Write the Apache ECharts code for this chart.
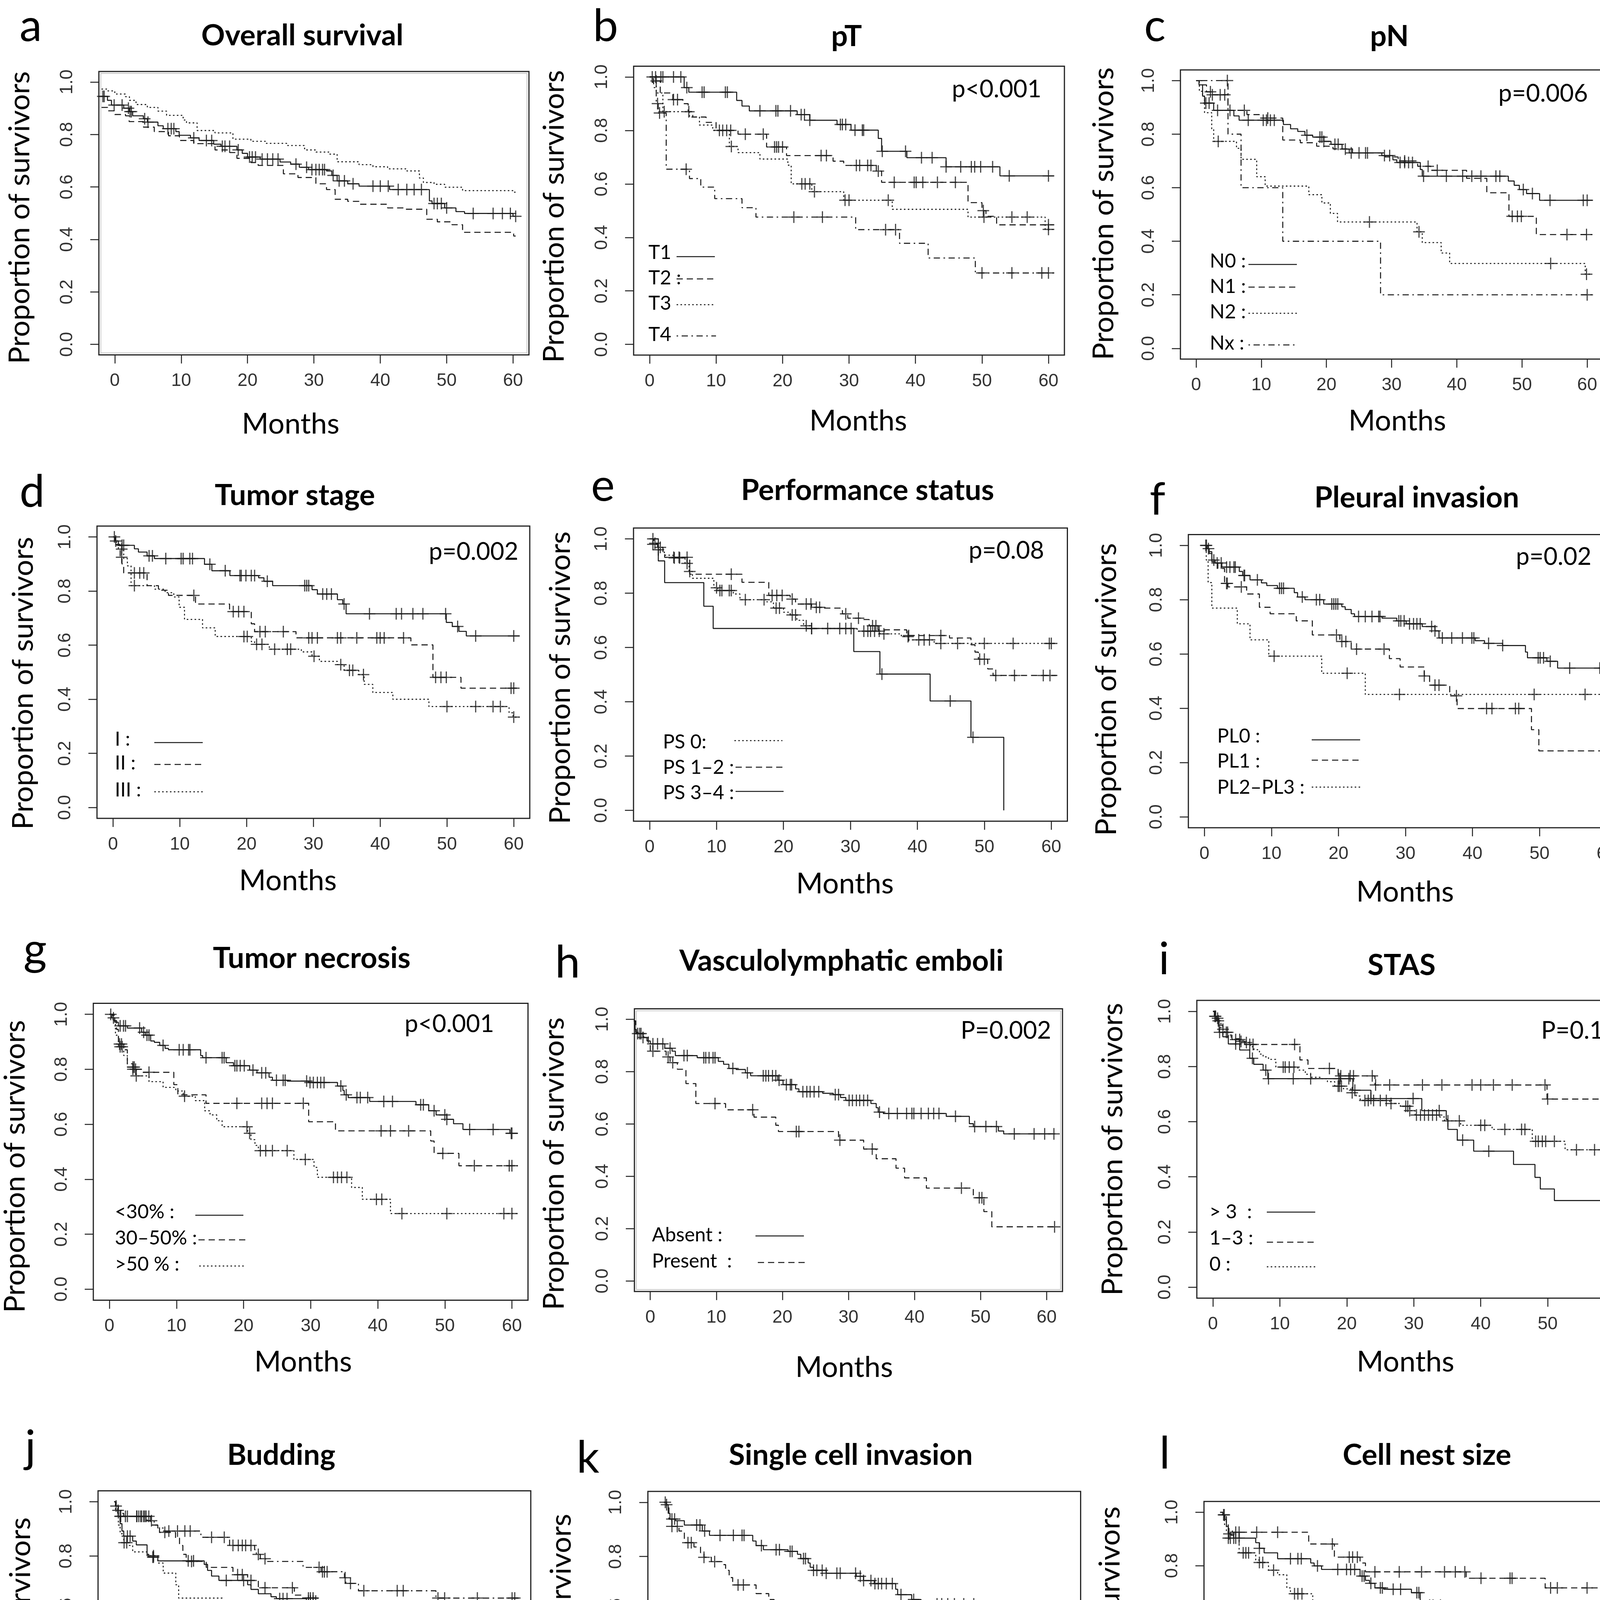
<!DOCTYPE html>
<html><head><meta charset="utf-8">
<script src="https://cdn.jsdelivr.net/npm/echarts@6/dist/echarts.min.js"></script>
<style>html,body{margin:0;padding:0;background:#fff}#c{width:4230px;height:4822px}</style>
</head><body><div id="c"></div>
<script>
// ---------------- DATA ----------------
const xTicks = [0, 10, 20, 30, 40, 50, 60];
const yTicks = [0, 0.2, 0.4, 0.6, 0.8, 1.0];
// last follow-up time per panel
const endTimes = [60.4, 60.8, 60.8, 60.9, 60.9, 60.9, 60.9, 61.3, 60.8, 60.8, 61.0, 60.8];

// a: Overall survival
const a_est = [[-2.05,0.945],[-1.1,0.93],[-0.5,0.912],[1.35,0.9],[2.2,0.887],[2.7,0.871],[4.3,0.86],[4.9,0.847],[6.5,0.833],[7.3,0.822],[9.2,0.811],[9.7,0.797],[11.4,0.787],[12.7,0.777],[14.9,0.763],[16.0,0.755],[18.4,0.741],[19.2,0.728],[20.0,0.714],[21.9,0.706],[24.9,0.695],[26.5,0.687],[27.8,0.675],[29.2,0.666],[31.9,0.661],[32.7,0.644],[33.5,0.623],[35.1,0.612],[36.8,0.603],[41.4,0.59],[47.4,0.547],[47.8,0.537],[49.7,0.52],[51.4,0.506],[52.7,0.499],[60.0,0.488]];
const a_est_c = [-1.8,-1.6,-0.1,1.1,2.05,2.3,2.5,4.5,5.0,8.0,8.5,8.9,11.9,13.8,14.6,16.2,16.6,17.3,18.6,20.3,20.7,21.2,22.2,23.0,23.8,24.6,27.3,28.9,29.7,30.3,30.8,31.3,31.6,32.9,33.8,34.6,35.9,38.9,40.0,41.2,42.7,44.0,45.1,46.2,48.1,48.6,49.2,50.0,54.0,57.0,58.4,59.6,60.4];
const a_upper = [[-2.0,0.973],[-1.1,0.966],[0,0.954],[1.6,0.944],[2.2,0.93],[3.2,0.914],[4.9,0.903],[6.5,0.889],[7.8,0.873],[10.3,0.855],[10.8,0.844],[12.4,0.815],[15.1,0.806],[17.8,0.782],[20.5,0.774],[22.7,0.766],[25.9,0.758],[28.6,0.741],[30.3,0.733],[32.4,0.725],[33.5,0.696],[36.8,0.685],[38.9,0.677],[41.1,0.669],[44.0,0.661],[45.9,0.634],[46.5,0.617],[48.1,0.61],[49.7,0.599],[52.4,0.586],[60.1,0.58]];
const a_lower = [[-2.0,0.903],[-1.08,0.89],[0,0.876],[1.62,0.871],[2.16,0.849],[4.32,0.828],[5.95,0.811],[8.1,0.795],[9.73,0.777],[11.9,0.765],[15.1,0.741],[17.3,0.731],[18.4,0.709],[20.5,0.693],[21.6,0.682],[25.4,0.65],[27.6,0.636],[30.3,0.612],[31.9,0.59],[33.2,0.553],[35.1,0.545],[36.8,0.534],[41.1,0.52],[43.8,0.515],[47.0,0.477],[48.6,0.467],[50.8,0.456],[52.4,0.427],[60.1,0.413]];

// b: pT
const b_T1 = [[0,1],[5.2,0.96],[5.9,0.943],[13.1,0.912],[13.9,0.891],[15.0,0.873],[22.2,0.859],[24.1,0.838],[28.2,0.822],[30.3,0.801],[34.4,0.77],[34.9,0.722],[38.7,0.698],[44.6,0.664],[52.7,0.63]];
const b_T1_c = [0.4,0.9,1.7,2.0,3.6,4.7,5.6,7.9,8.2,11.4,11.7,16.6,19.0,19.3,21.2,22.8,23.3,24.1,28.7,29.0,29.5,30.9,32.0,32.2,35.0,38.5,40.9,42.5,44.6,46.8,48.4,48.9,49.8,51.6,54.1,60.0];
const b_T2 = [[0,1],[0.8,0.985],[1.6,0.94],[3.5,0.915],[5.0,0.9],[5.8,0.87],[6.5,0.85],[8.5,0.83],[10.0,0.8],[13.3,0.786],[17.6,0.738],[20.6,0.706],[27.6,0.685],[29.2,0.669],[34.1,0.648],[34.9,0.606],[47.9,0.53],[50.0,0.5],[50.6,0.479],[52.2,0.447]];
const b_T2_c = [1.0,3.6,4.2,5.9,10.5,11.0,11.6,12.2,14.4,17.1,18.8,19.1,19.4,20.0,25.8,26.6,31.1,31.6,32.8,33.3,34.4,36.8,39.8,40.1,41.1,43.3,46.0,50.2,60.0];
const b_T3 = [[0,1],[0.4,0.98],[1.0,0.94],[2.0,0.87],[6.0,0.85],[7.5,0.82],[9.5,0.8],[12.0,0.74],[13.3,0.717],[16.6,0.693],[20.8,0.67],[21.3,0.6],[24.4,0.571],[29.2,0.539],[36.5,0.505],[47.9,0.476],[59.5,0.43]];
const b_T3_c = [2.2,12.3,22.9,23.4,24.1,24.8,29.4,30.0,35.9,50.3,54.5,56.8,60.0];
const b_T4 = [[0,1],[0.6,0.96],[1.0,0.9],[1.3,0.865],[2.5,0.655],[6.0,0.62],[7.7,0.588],[9.8,0.545],[13.9,0.511],[16.0,0.476],[31.0,0.429],[37.6,0.378],[41.9,0.323],[49.0,0.267]];
const b_T4_c = [1.2,1.5,5.5,21.7,26.0,35.5,37.0,50.0,54.5,59.0,60.0];

// c: pN
const c_N0 = [[0,1],[0.45,0.984],[1.0,0.942],[1.3,0.916],[2.7,0.889],[5.8,0.868],[6.6,0.852],[13.4,0.836],[14.5,0.82],[15.6,0.81],[16.7,0.796],[17.9,0.789],[19.6,0.773],[20.7,0.762],[22.4,0.744],[23.5,0.73],[28.5,0.72],[30.2,0.704],[30.8,0.694],[34.4,0.668],[34.7,0.643],[47.9,0.625],[48.8,0.609],[49.6,0.593],[50.7,0.578],[52.7,0.553]];
const c_N0_c = [1.5,2.0,3.3,5.2,8.0,10.3,10.8,11.4,12.0,17.0,19.0,19.3,19.6,21.3,21.8,22.9,23.8,25.0,26.3,28.9,29.7,31.3,32.0,32.6,33.2,34.9,38.4,40.9,42.3,43.7,46.0,46.6,50.2,51.6,54.3,59.4,60.0];
const c_N1 = [[0,1],[1.0,0.984],[1.6,0.958],[2.5,0.947],[4.9,0.889],[7.8,0.873],[9.7,0.86],[13.3,0.778],[16.0,0.768],[18.5,0.755],[21.0,0.745],[24.0,0.73],[29.0,0.715],[31.0,0.7],[34.0,0.68],[36.0,0.665],[41.5,0.635],[44.6,0.581],[48.0,0.493],[52.2,0.425]];
const c_N1_c = [2.2,2.5,3.7,4.4,7.4,11.0,26.0,32.0,35.6,37.0,48.5,49.3,49.9,56.9,59.9];
const c_N2 = [[0,1],[0.5,0.96],[1.0,0.942],[1.3,0.88],[2.4,0.82],[2.7,0.773],[6.2,0.747],[6.9,0.706],[9.3,0.641],[10.6,0.606],[17.3,0.574],[19.3,0.543],[20.6,0.504],[21.7,0.472],[33.9,0.435],[34.7,0.395],[37.6,0.356],[38.9,0.317],[59.7,0.277]];
const c_N2_c = [3.4,26.6,34.2,54.4,59.9];
const c_Nx = [[0,1],[4.9,0.8],[6.9,0.6],[13.3,0.4],[28.3,0.2],[60.0,0.2]];
const c_Nx_c = [4.8,60.0];

// d: Tumor stage
const d_I = [[0,1],[0.27,0.985],[0.8,0.969],[3.2,0.956],[3.8,0.944],[5.1,0.93],[6.2,0.92],[13.7,0.899],[14.8,0.875],[17.5,0.857],[21.8,0.849],[22.6,0.836],[23.9,0.82],[29.8,0.805],[30.6,0.789],[33.6,0.768],[34.4,0.752],[34.9,0.716],[49.9,0.684],[50.8,0.669],[51.8,0.651],[52.9,0.634]];
const d_I_c = [0.2,0.4,1.35,1.6,5.4,5.9,7.9,10.2,10.5,11.5,11.9,14.5,16.8,19.0,19.2,19.9,20.7,21.2,23.1,28.7,29.0,29.3,31.4,32.0,32.7,34.6,38.4,42.4,43.2,44.9,46.4,49.8,51.6,54.3,60.0];
const d_II = [[0,1],[0.4,0.972],[1.07,0.925],[1.34,0.9],[1.6,0.867],[5.1,0.82],[6.8,0.803],[8.3,0.784],[12.35,0.752],[17.45,0.724],[20.7,0.679],[21.2,0.65],[27.4,0.627],[44.6,0.601],[47.9,0.481],[52.1,0.441]];
const d_II_c = [1.3,3.2,4.0,4.6,12.1,18.0,18.8,19.6,22.0,22.8,25.5,29.3,29.8,30.6,33.6,34.1,36.5,39.5,40.0,40.6,43.5,48.3,49.1,49.9,59.6,60.0];
const d_III = [[0,1],[0.3,0.98],[0.8,0.955],[1.6,0.92],[2.15,0.893],[2.7,0.82],[6.2,0.807],[7.8,0.794],[9.1,0.778],[9.9,0.74],[10.7,0.695],[13.4,0.664],[15.3,0.632],[20.7,0.613],[21.2,0.603],[23.4,0.585],[28.2,0.575],[29.8,0.559],[30.9,0.54],[33.6,0.528],[34.6,0.507],[36.8,0.491],[37.6,0.455],[38.9,0.425],[41.9,0.4],[47.3,0.373],[59.3,0.35],[59.9,0.334]];
const d_III_c = [1.3,3.2,19.6,20.1,21.5,22.3,24.2,26.1,26.6,30.1,34.1,35.4,35.9,37.5,50.0,54.3,56.9,58.0,60.0];

// e: Performance status
const e_PS0 = [[0,1],[0.5,0.98],[1.3,0.96],[2.2,0.94],[3.5,0.93],[5.3,0.91],[5.9,0.88],[6.4,0.855],[9.6,0.82],[10.2,0.81],[12.5,0.797],[13.5,0.776],[17.5,0.768],[18.5,0.745],[20.0,0.73],[21.0,0.72],[22.0,0.70],[23.0,0.68],[24.0,0.67],[31.0,0.66],[34.4,0.65],[37.6,0.64],[38.7,0.628],[42.5,0.615]];
const e_PS0_c = [0.5,1.3,3.7,4.5,5.6,6.0,10.0,10.5,10.8,11.9,12.2,14.3,17.1,18.9,19.4,21.3,21.8,23.4,24.2,29.3,32.0,32.6,33.0,33.6,34.3,35.0,38.6,40.2,41.0,41.8,43.5,46.0,50.0,54.3,59.7,60.0];
const e_PS12 = [[0,1],[0.64,0.984],[1.2,0.969],[2.0,0.943],[2.25,0.932],[6.0,0.87],[13.8,0.84],[17.8,0.792],[21.0,0.778],[21.8,0.76],[24.2,0.748],[25.5,0.745],[28.8,0.724],[29.6,0.708],[31.7,0.703],[32.8,0.68],[34.1,0.665],[38.4,0.644],[44.8,0.635],[48.0,0.61],[48.6,0.583],[49.1,0.557],[50.5,0.521],[51.3,0.497]];
const e_PS12_c = [0.8,1.6,3.6,4.4,5.6,12.2,18.3,19.0,19.8,21.3,23.4,24.1,24.9,25.4,29.3,31.2,33.3,33.8,38.7,43.5,49.3,50.0,51.7,54.5,58.8,59.8];
const e_PS34 = [[0,1],[1.3,0.919],[2.25,0.839],[8.1,0.752],[9.5,0.67],[30.5,0.585],[34.4,0.502],[41.9,0.403],[48.0,0.269],[52.9,0.0]];
const e_PS34_c = [0.5,24.2,26.6,28.4,30.1,34.7,44.9,48.3];

// f: Pleural invasion
const f_PL0 = [[0,1],[0.38,0.988],[0.71,0.97],[1.1,0.946],[1.6,0.935],[2.6,0.92],[5.2,0.904],[5.7,0.889],[6.8,0.873],[8.5,0.862],[9.3,0.852],[10.9,0.842],[13.4,0.826],[13.9,0.81],[15.0,0.8],[17.8,0.784],[20.5,0.774],[21.0,0.764],[21.9,0.748],[22.4,0.738],[26.5,0.732],[28.7,0.722],[30.1,0.711],[32.5,0.701],[34.4,0.685],[35.0,0.659],[40.4,0.649],[41.8,0.639],[44.5,0.631],[47.9,0.607],[48.2,0.586],[51.1,0.573],[52.7,0.548],[59.8,0.534]];
const f_PL0_c = [0.2,0.6,1.4,1.9,2.5,3.3,3.8,4.4,4.6,5.9,6.0,7.9,11.2,11.5,11.8,14.6,16.7,17.2,19.0,19.3,19.6,19.9,23.0,24.0,25.0,26.0,26.2,29.0,29.3,29.8,30.6,31.2,31.7,32.2,33.9,34.4,35.5,36.9,38.5,39.9,40.2,42.4,44.5,49.8,50.1,50.6,51.6,54.5,59.0,59.6,60.0];
const f_PL1 = [[0,1],[0.55,0.977],[1.1,0.94],[2.0,0.915],[3.0,0.86],[3.5,0.847],[6.3,0.821],[8.2,0.772],[9.8,0.748],[13.7,0.722],[16.1,0.67],[20.2,0.646],[21.9,0.618],[27.6,0.583],[29.2,0.552],[32.8,0.519],[33.6,0.485],[36.6,0.446],[37.7,0.399],[48.8,0.321],[49.9,0.243]];
const f_PL1_c = [0.3,3.3,3.4,5.5,19.7,20.5,21.1,22.7,26.8,32.8,34.4,35.0,37.6,42.1,42.9,46.4,46.9,60.0];
const f_PL23 = [[0,1],[0.27,0.946],[0.55,0.863],[1.1,0.769],[4.9,0.711],[6.8,0.652],[9.6,0.592],[17.5,0.529],[24.0,0.451]];
const f_PL23_c = [10.4,21.3,29.1,49.2,56.8,60.0];

// g: Tumor necrosis
const g_lt30 = [[0,1],[0.37,0.987],[0.8,0.971],[1.34,0.958],[2.67,0.95],[4.8,0.935],[5.35,0.924],[6.15,0.903],[6.7,0.898],[7.5,0.887],[8.3,0.876],[8.8,0.871],[13.6,0.85],[13.9,0.842],[17.4,0.824],[18.5,0.813],[20.9,0.797],[22.0,0.787],[23.8,0.771],[24.3,0.76],[26.5,0.757],[29.7,0.752],[34.0,0.739],[34.8,0.723],[35.0,0.707],[35.6,0.697],[38.8,0.683],[45.7,0.671],[47.6,0.649],[48.7,0.634],[50.3,0.618],[51.3,0.602],[52.7,0.581],[59.7,0.567]];
const g_lt30_c = [0.2,0.6,1.6,2.1,2.4,4.5,5.1,5.6,5.9,8.0,10.4,11.0,11.8,12.0,14.4,16.8,17.1,18.7,19.0,19.5,20.1,21.4,22.7,23.3,24.9,25.9,26.2,29.4,29.9,30.4,31.0,31.5,32.0,34.5,35.3,36.9,37.4,38.5,40.9,42.2,46.4,46.8,48.4,50.0,50.3,53.7,57.2,59.9,60.0];
const g_3050 = [[0,1],[0.7,0.977],[1.07,0.945],[1.34,0.892],[2.14,0.871],[2.67,0.82],[3.5,0.8],[5.0,0.789],[9.6,0.744],[10.2,0.707],[14.4,0.676],[29.7,0.609],[33.7,0.576],[47.9,0.539],[48.4,0.494],[52.1,0.449]];
const g_3050_c = [1.5,1.8,3.5,3.9,5.9,19.0,22.7,23.5,24.3,28.9,40.5,41.9,44.6,49.7,54.4,59.6,60.0];
const g_gt50 = [[0,1],[0.53,0.977],[0.9,0.924],[1.34,0.882],[2.14,0.85],[2.67,0.808],[4.0,0.776],[5.9,0.755],[8.0,0.734],[9.9,0.721],[11.0,0.702],[12.8,0.686],[14.2,0.649],[15.0,0.634],[16.0,0.613],[16.8,0.591],[20.6,0.567],[21.1,0.544],[21.7,0.523],[22.2,0.504],[27.5,0.472],[30.5,0.443],[31.0,0.407],[36.1,0.37],[37.7,0.327],[41.9,0.275]];
const g_gt50_c = [1.6,1.9,3.5,3.7,4.0,11.2,20.5,20.9,22.5,23.3,24.3,26.5,29.2,33.4,34.0,34.6,35.4,39.8,40.6,43.6,50.3,58.8,60.0];

// h: Vasculolymphatic emboli
const h_abs = [[-2.5,0.994],[-2.3,0.961],[-2.1,0.945],[-1.1,0.93],[-0.5,0.917],[0,0.906],[2.2,0.889],[3.3,0.878],[3.8,0.861],[7.1,0.853],[10.3,0.839],[11.1,0.828],[11.9,0.812],[13.0,0.808],[14.4,0.795],[15.2,0.784],[19.3,0.767],[20.1,0.75],[22.0,0.734],[22.5,0.723],[26.1,0.717],[27.7,0.712],[28.8,0.701],[29.6,0.69],[33.4,0.678],[34.2,0.662],[34.5,0.645],[35.3,0.64],[44.8,0.629],[48.3,0.601],[48.9,0.59],[52.7,0.573],[53.5,0.562]];
const h_abs_c = [-1.9,-1.6,-1.4,-1.1,0.4,1.1,1.9,3.0,5.1,5.6,8.1,8.4,8.9,9.5,9.8,12.5,14.7,17.1,17.5,17.9,18.5,19.0,19.5,20.6,21.2,21.4,23.1,23.7,24.2,24.8,25.5,28.0,28.5,30.1,30.6,31.2,31.7,32.3,32.9,34.7,36.1,37.4,38.8,39.6,39.9,41.0,42.1,42.9,43.7,46.2,49.1,50.8,52.4,55.1,58.1,59.7,61.1];
const h_pres = [[-2.5,0.994],[-2.2,0.95],[-1.1,0.933],[-0.3,0.9],[0,0.878],[2.4,0.856],[3.0,0.834],[4.1,0.809],[5.4,0.754],[6.9,0.678],[11.4,0.654],[15.7,0.626],[19.0,0.595],[19.4,0.571],[28.5,0.538],[32.3,0.504],[34.2,0.467],[37.2,0.431],[38.5,0.394],[41.8,0.355],[48.9,0.318],[50.5,0.265],[51.7,0.207]];
const h_pres_c = [0.4,2.7,3.4,9.8,15.5,22.1,22.5,28.7,33.6,47.1,49.8,50.2,61.2];

// i: STAS
const i_gt3 = [[0,1],[0.22,0.982],[0.55,0.966],[0.93,0.924],[1.48,0.908],[2.3,0.882],[4.0,0.86],[5.5,0.83],[6.1,0.808],[7.5,0.787],[8.2,0.756],[20.9,0.714],[23.6,0.684],[31.2,0.64],[34.85,0.608],[35.1,0.572],[36.5,0.533],[38.95,0.493],[44.9,0.445],[48.1,0.398],[48.9,0.356],[51.0,0.314]];
const i_gt3_c = [0.4,1.0,3.4,5.9,7.9,8.3,12.0,14.6,18.8,19.0,20.3,21.2,23.6,29.9,33.8,37.3,41.2,60.0];
const i_1to3 = [[0,1],[0.38,0.975],[0.9,0.95],[1.48,0.924],[2.3,0.914],[2.84,0.901],[3.94,0.891],[4.76,0.88],[13.0,0.824],[14.2,0.793],[18.7,0.766],[24.2,0.733],[49.9,0.682]];
const i_1to3_c = [0.7,2.0,4.2,5.5,6.0,12.2,17.4,19.1,20.5,21.0,23.8,24.3,26.4,31.3,34.2,38.7,40.0,41.9,44.7,49.6,50.0,60.0];
const i_zero = [[0,1],[0.22,0.982],[0.66,0.966],[1.2,0.935],[1.75,0.924],[2.3,0.908],[2.84,0.898],[4.49,0.887],[5.58,0.872],[6.13,0.861],[6.95,0.845],[7.5,0.835],[8.3,0.826],[9.4,0.798],[12.7,0.787],[13.8,0.772],[14.6,0.761],[16.0,0.756],[17.1,0.745],[18.2,0.729],[19.5,0.719],[20.6,0.705],[21.4,0.693],[22.0,0.677],[26.4,0.666],[28.0,0.656],[29.4,0.64],[30.2,0.624],[33.75,0.617],[34.6,0.603],[37.0,0.587],[41.7,0.572],[47.7,0.529],[52.6,0.498],[59.7,0.477]];
const i_zero_c = [0.3,0.8,1.5,2.2,3.4,4.0,5.0,10.5,10.8,11.4,12.1,18.7,18.9,19.2,20.8,22.7,23.2,24.0,25.0,25.9,26.6,28.8,29.1,29.4,30.4,31.0,31.6,32.2,32.8,33.4,35.1,36.8,40.0,40.6,43.6,46.1,46.6,48.2,48.6,49.2,49.7,51.0,54.3,57.0,58.6,59.4,60.0];

// j: Budding
const j_BD0 = [[0,1],[0.3,0.984],[0.64,0.946],[0.91,0.919],[1.18,0.892],[1.45,0.873],[2.79,0.855],[3.33,0.841],[4.94,0.806],[5.2,0.796],[6.55,0.782],[13.5,0.769],[14.0,0.747],[14.6,0.726],[15.7,0.71],[20.0,0.694],[20.5,0.677],[21.6,0.661],[23.5,0.65],[24.3,0.643],[28.8,0.634],[30.5,0.618],[32.1,0.602],[33.4,0.586],[34.5,0.57],[35.0,0.557],[44.7,0.527],[47.9,0.495],[48.2,0.462],[49.0,0.446],[50.1,0.435],[51.1,0.425],[52.7,0.398]];
const j_BD0_c = [0.9,2.0,2.4,5.8,5.9,11.1,11.9,16.8,19.4,24.8,25.3,25.9,29.1,29.4,29.8,30.2,33.7,38.8,40.4,41.7,46.3,50.0,54.2,57.0,58.6,59.6];
const j_BD1 = [[0,1],[0.21,0.984],[0.54,0.957],[0.91,0.946],[4.94,0.93],[5.48,0.914],[6.8,0.887],[9.2,0.866],[9.8,0.839],[10.3,0.806],[10.8,0.78],[13.8,0.758],[17.8,0.731],[20.0,0.71],[21.6,0.683],[27.0,0.656],[28.0,0.645],[30.5,0.629],[32.9,0.608],[33.9,0.591],[37.7,0.559],[38.8,0.522],[47.9,0.475],[48.4,0.446],[52.2,0.414]];
const j_BD1_c = [1.0,3.4,3.7,4.1,4.6,7.6,11.6,18.5,19.2,20.5,22.6,26.7,29.1,29.4,29.8,33.1,39.3,39.6,43.7,44.5,45.6,48.6,50.1,54.1,60.0];
const j_BD2 = [[0,1],[0.21,0.968],[0.64,0.914],[0.91,0.882],[1.45,0.849],[2.26,0.839],[2.79,0.815],[4.94,0.801],[6.55,0.774],[7.36,0.737],[9.24,0.694],[9.67,0.645],[16.2,0.613],[24.3,0.57],[34.5,0.554],[34.7,0.522],[41.7,0.462],[47.9,0.441],[50.1,0.43],[50.6,0.419],[52.7,0.409],[59.7,0.35]];
const j_BD2_c = [0.6,1.5,1.9,5.9,19.5,20.6,21.6,22.6,23.9,36.6,38.7,60.0];
const j_BD3 = [[0,1],[0.3,0.984],[0.64,0.968],[1.18,0.957],[1.45,0.946],[5.48,0.93],[6.0,0.914],[6.55,0.903],[7.36,0.892],[13.0,0.869],[17.3,0.839],[21.05,0.823],[21.3,0.806],[21.9,0.79],[22.7,0.78],[28.3,0.758],[31.0,0.742],[34.5,0.72],[34.7,0.699],[36.6,0.672],[48.2,0.645]];
const j_BD3_c = [0.3,1.7,2.0,3.4,4.0,4.4,4.8,5.2,5.6,8.2,9.5,10.6,11.4,14.6,16.5,17.8,18.6,19.2,19.7,20.5,21.6,22.6,30.7,31.2,31.5,31.9,34.6,35.4,37.4,42.4,43.3,48.5,49.5,54.4,59.6,60.0];

// k: Single cell invasion
const k_abs = [[0,1],[0.38,0.991],[0.64,0.959],[0.91,0.938],[1.72,0.932],[3.06,0.916],[5.75,0.894],[6.82,0.878],[13.3,0.857],[13.8,0.84],[14.9,0.825],[18.6,0.819],[20.0,0.808],[20.5,0.792],[21.6,0.776],[21.9,0.76],[22.4,0.749],[24.3,0.738],[28.8,0.727],[29.9,0.711],[31.5,0.7],[34.7,0.679],[35.0,0.659],[37.1,0.641],[38.5,0.625],[47.9,0.582],[48.4,0.566],[49.2,0.555],[52.7,0.539]];
const k_abs_c = [0.2,0.4,1.2,1.6,4.9,5.4,6.1,8.4,10.4,11.7,12.0,14.6,16.8,17.3,18.9,19.2,20.9,21.2,22.4,22.9,23.7,24.3,25.9,26.4,28.7,29.4,29.9,31.0,31.6,32.1,32.6,33.3,34.2,35.5,37.4,40.9,41.6,42.5,43.5,44.9,46.4,48.2,49.0,49.5,54.4,59.6,60.1];
const k_pres = [[0,1],[0.4,0.98],[0.75,0.938],[1.18,0.911],[2.26,0.894],[3.06,0.851],[4.5,0.835],[5.48,0.814],[6.0,0.797],[7.1,0.781],[8.7,0.77],[9.24,0.749],[9.77,0.722],[10.3,0.695],[13.8,0.663],[15.7,0.641],[16.5,0.63],[17.6,0.609],[24.3,0.593],[29.1,0.573],[30.5,0.555],[33.4,0.539],[34.5,0.523],[42.0,0.501],[48.2,0.474],[49.8,0.458],[50.6,0.442],[52.5,0.401],[59.5,0.383]];
const k_pres_c = [1.2,2.0,3.6,4.1,6.0,7.6,11.1,11.9,19.2,19.4,21.4,21.9,22.7,24.3,29.1,34.2,34.5,35.5,36.6,39.9,46.7,49.8,50.1,51.4,54.1,57.1,58.5,60.0];

// l: Cell nest size
const l_one = [[0,1],[0.4,0.99],[0.7,0.973],[0.92,0.947],[1.19,0.919],[1.6,0.914],[2.0,0.903],[5.26,0.886],[5.8,0.865],[6.5,0.848],[8.5,0.826],[13.4,0.81],[13.9,0.799],[15.0,0.786],[20.7,0.761],[21.5,0.745],[22.1,0.734],[22.9,0.717],[24.2,0.712],[28.3,0.699],[29.6,0.668],[30.2,0.652],[33.2,0.638],[34.5,0.603],[34.8,0.575],[38.9,0.553],[39.1,0.537],[48.1,0.477],[49.4,0.461],[51.3,0.45],[52.7,0.419]];
const l_one_c = [0.6,1.3,2.3,2.8,5.8,10.4,11.5,12.0,14.4,17.4,18.7,19.3,19.9,21.0,21.3,22.3,23.7,24.0,25.6,26.7,29.1,29.4,31.0,31.5,32.6,37.5,39.9,41.0,44.8,46.2,48.8,49.9,54.3,56.5,57.8,60.0];
const l_gt1 = [[0,1],[0.4,0.99],[0.92,0.963],[1.19,0.93],[1.8,0.925],[13.1,0.881],[16.9,0.832],[20.7,0.81],[21.5,0.777],[36.4,0.753],[48.1,0.717]];
const l_gt1_c = [0.5,2.3,2.8,5.4,8.5,16.6,19.1,19.6,20.3,22.9,26.5,29.8,33.2,34.8,36.2,38.6,42.9,43.2,48.9,49.9,54.3,59.4,60.0];
const l_gt5 = [[0,1],[0.3,0.99],[0.65,0.952],[0.92,0.925],[1.19,0.903],[2.8,0.848],[5.26,0.821],[5.8,0.812],[7.15,0.783],[8.5,0.766],[9.86,0.717],[10.4,0.695],[13.7,0.659],[16.4,0.624],[18.3,0.603],[23.7,0.594],[26.7,0.572],[30.5,0.559],[34.0,0.537],[35.1,0.515],[42.1,0.499],[48.1,0.461],[51.3,0.43],[52.1,0.406],[59.7,0.362]];
const l_gt5_c = [1.2,1.5,2.0,3.4,3.8,4.2,5.8,6.3,7.9,11.0,11.5,12.1,19.1,20.2,21.2,22.0,22.6,24.2,24.7,29.4,34.2,35.1,36.1,37.5,39.9,44.5,46.7,49.4,50.5,54.3,57.3,60.0];

// text content
const titles = ['Overall survival','pT','pN','Tumor stage','Performance status','Pleural invasion','Tumor necrosis','Vasculolymphatic emboli','STAS','Budding','Single cell invasion','Cell nest size'];
const letters = ['a','b','c','d','e','f','g','h','i','j','k','l'];
const pTexts = [null,'p<0.001','p=0.006','p=0.002','p=0.08','p=0.02','p<0.001','P=0.002','P=0.1',null,null,null];
const legendLabels = [
  [],
  ['T1','T2 :','T3','T4'],
  ['N0 :','N1 :','N2 :','Nx :'],
  ['I :','II :','III :'],
  ['PS 0:','PS 1\u20132 :','PS 3\u20134 :'],
  ['PL0 :','PL1 :','PL2\u2013PL3 :'],
  ['<30% :','30\u201350% :','>50 % :'],
  ['Absent :','Present  :'],
  ['> 3  :','1\u20133 :','0 :'],
  ['BD0 :','BD1 :','BD2 :','BD3 :'],
  ['Absentes :','Pr\u00e9sentes :'],
  ['1 :','>1\u20135 :','>5 :']
];

// ---------------- LAYOUT / STYLE ----------------
const W = 4230, H = 4822;
const grids = [
  [253.1,183.0,1101.0,725.5],[1622.1,169.5,1102.8,739.6],[3021.9,178.9,1081.3,740.3],
  [248.3,1346.8,1107.9,748.1],[1621.8,1351.8,1110.7,750.5],[3042.2,1368.4,1111.7,750.5],
  [238.9,2568.5,1112.8,759.9],[1624.1,2582.4,1095.9,723.8],[3063.9,2560.9,1110.7,762.4],
  [251.0,3816.5,1107.8,750.8],[1658.6,3818.1,1107.8,749.1],[3082.2,3843.8,1120.8,739.5]
];
const letterPos = [[50,112],[1518,112],[2929,112],[50,1304],[1513,1289],[2943,1325],[60,2477],[1421,2509],[2966,2501],[64,3750],[1476,3777],[2968,3766]];
const titlePos = [[774,121],[2167,123],[3557,123],[755,1298],[2221,1285],[3627,1304],[798,2483],[2154,2490],[3588,2501],[720,3755],[2178,3755],[3653,3755]];
const ylabPos = [[60,557],[1428,554],[2835,547],[69,1749],[1444,1735],[2842,1765],[48,2986],[1428,2979],[2858,2942],[62,4259],[1446,4250],[2851,4231]];
const monthsPos = [[744,1115],[2197,1107],[3577,1107],[737,2284],[2163,2292],[3597,2313],[776,3516],[2161,3530],[3598,3516],[777,4790],[2225,4786],[3641,4797]];
const pPos = [null,[2666,253],[4065,264],[1327,1437],[2673,1434],[4074,1450],[1265,2646],[2691,2663],[4105,2663],null,null,null];
// legend: [textX, baseline, lineX1, lineX2, lineY]
const legendPos = [
  [],
  [[1660,666,1732,1830,657],[1660,731,1732,1830,714],[1660,796,1732,1830,780],[1660,876,1732,1833,860]],
  [[3097,688,3196,3320,677],[3097,753,3196,3320,735],[3097,818,3196,3320,802],[3097,898,3196,3323,883]],
  [[294,1912,395,519,1901],[294,1973,395,519,1957],[294,2042,395,519,2027]],
  [[1697,1919,1880,2003,1896],[1697,1984,1883,2003,1964],[1697,2049,1883,2006,2026]],
  [[3116,1904,3358,3482,1894],[3116,1968,3358,3482,1946],[3116,2035,3358,3482,2015]],
  [[294,3122,500,623,3111],[294,3189,508,630,3174],[294,3256,510,630,3241]],
  [[1669,3181,1934,2058,3164],[1669,3248,1940,2061,3232]],
  [[3096,3122,3243,3367,3103],[3096,3189,3243,3367,3180],[3096,3256,3243,3367,3243]],
  [[352,4319,494,617,4298],[352,4390,494,627,4371],[352,4453,500,622,4436],[352,4533,500,627,4515]],
  [[1761,4457,2067,2190,4442],[1761,4524,2067,2190,4513]],
  [[3114,4401,3297,3405,4377],[3114,4466,3297,3417,4446],[3114,4532,3303,3411,4519]]
];
const DASH = { solid: 'solid', dashed: [16, 10], dotted: [4, 6], dotdash: [4, 9, 16, 9] };
const LINE = '#1a1a1a';
const TICKCOL = '#333333';
const LATO = 'Lato, "Open Sans", "DejaVu Sans", sans-serif';
const PLUS = 'path://M13.5,0h3v13.5h13.5v3h-13.5v13.5h-3v-13.5h-13.5v-3h13.5z';

// curves per panel: [steps, censor, dash]
const panels = [
  [[a_est,a_est_c,'solid'],[a_upper,null,'dotted'],[a_lower,null,'dashed']],
  [[b_T1,b_T1_c,'solid'],[b_T2,b_T2_c,'dashed'],[b_T3,b_T3_c,'dotted'],[b_T4,b_T4_c,'dotdash']],
  [[c_N0,c_N0_c,'solid'],[c_N1,c_N1_c,'dashed'],[c_N2,c_N2_c,'dotted'],[c_Nx,c_Nx_c,'dotdash']],
  [[d_I,d_I_c,'solid'],[d_II,d_II_c,'dashed'],[d_III,d_III_c,'dotted']],
  [[e_PS0,e_PS0_c,'dotted'],[e_PS12,e_PS12_c,'dashed'],[e_PS34,e_PS34_c,'solid']],
  [[f_PL0,f_PL0_c,'solid'],[f_PL1,f_PL1_c,'dashed'],[f_PL23,f_PL23_c,'dotted']],
  [[g_lt30,g_lt30_c,'solid'],[g_3050,g_3050_c,'dashed'],[g_gt50,g_gt50_c,'dotted']],
  [[h_abs,h_abs_c,'solid'],[h_pres,h_pres_c,'dashed']],
  [[i_gt3,i_gt3_c,'solid'],[i_1to3,i_1to3_c,'dashed'],[i_zero,i_zero_c,'dotted']],
  [[j_BD0,j_BD0_c,'solid'],[j_BD1,j_BD1_c,'dashed'],[j_BD2,j_BD2_c,'dotted'],[j_BD3,j_BD3_c,'dotdash']],
  [[k_abs,k_abs_c,'solid'],[k_pres,k_pres_c,'dashed']],
  [[l_one,l_one_c,'solid'],[l_gt1,l_gt1_c,'dashed'],[l_gt5,l_gt5_c,'dotted']]
];

// ---------------- BUILD ----------------
function stepAt(steps, t) {
  let s = steps[0][1];
  for (const p of steps) { if (p[0] <= t + 1e-9) s = p[1]; else break; }
  return s;
}
const gridOpt = [], xAxes = [], yAxes = [], series = [], graphic = [];
const TICKFONT = '"Liberation Sans", Arial, sans-serif';
grids.forEach((g, i) => {
  gridOpt.push({ left: g[0], top: g[1], width: g[2], height: g[3], show: true, borderColor: '#222', borderWidth: 3, backgroundColor: 'rgba(0,0,0,0)' });
  xAxes.push({ gridIndex: i, type: 'value', min: -2.4, max: 62.4, position: 'bottom',
    axisLine: { show: false, onZero: false }, splitLine: { show: false },
    axisTick: { show: true, inside: false, customValues: xTicks, length: 22, lineStyle: { color: '#222', width: 2.5 } },
    axisLabel: { show: true, customValues: xTicks, margin: 44, fontSize: 46, fontFamily: TICKFONT, color: TICKCOL } });
  yAxes.push({ gridIndex: i, type: 'value', min: -0.04, max: 1.04, position: 'left',
    axisLine: { show: false, onZero: false }, splitLine: { show: false },
    axisTick: { show: true, inside: false, customValues: yTicks, length: 22, lineStyle: { color: '#222', width: 2.5 } },
    axisLabel: { show: true, customValues: yTicks, rotate: 90, margin: 58, fontSize: 46, fontFamily: TICKFONT, color: TICKCOL, formatter: v => Number(v).toFixed(1) } });
  panels[i].forEach(c => {
    const steps = c[0], cens = c[1], dash = c[2];
    const data = steps.slice();
    const last = steps[steps.length - 1];
    if (last[1] > 0 && endTimes[i] > last[0]) data.push([endTimes[i], last[1]]);
    series.push({ type: 'line', xAxisIndex: i, yAxisIndex: i, data: data, step: 'end', symbol: 'none', silent: true, animation: false,
      lineStyle: { color: LINE, width: 2.6, type: DASH[dash], cap: 'butt' }, z: 2 });
    if (cens && cens.length) {
      series.push({ type: 'scatter', xAxisIndex: i, yAxisIndex: i, data: cens.map(t => [t, stepAt(steps, t)]), symbol: PLUS, symbolSize: 30,
        silent: true, animation: false, itemStyle: { color: LINE }, z: 3 });
    }
  });
  // texts
  const mid = (base, size) => base - 0.387 * size;
  graphic.push({ type: 'text', x: letterPos[i][0], y: mid(letterPos[i][1], 115), silent: true,
    style: { text: letters[i], fontSize: 115, fontFamily: LATO, fill: '#000', align: 'left', verticalAlign: 'middle' } });
  graphic.push({ type: 'text', x: titlePos[i][0], y: mid(titlePos[i][1], 75), silent: true,
    style: { text: titles[i], fontSize: 75, fontWeight: 'bold', fontFamily: LATO, fill: '#000', align: 'center', verticalAlign: 'middle' } });
  graphic.push({ type: 'text', x: ylabPos[i][0] - 9, y: ylabPos[i][1], rotation: Math.PI / 2, silent: true,
    style: { text: 'Proportion of survivors', fontSize: 74, fontFamily: LATO, fill: '#000', align: 'center', verticalAlign: 'middle' } });
  graphic.push({ type: 'text', x: monthsPos[i][0], y: mid(monthsPos[i][1], 74), silent: true,
    style: { text: 'Months', fontSize: 74, fontFamily: LATO, fill: '#000', align: 'center', verticalAlign: 'middle' } });
  if (pTexts[i]) graphic.push({ type: 'text', x: pPos[i][0], y: mid(pPos[i][1], 62), silent: true,
    style: { text: pTexts[i], fontSize: 62, fontFamily: LATO, fill: '#000', align: 'right', verticalAlign: 'middle' } });
  legendLabels[i].forEach((lab, k) => {
    const p = legendPos[i][k];
    graphic.push({ type: 'text', x: p[0], y: mid(p[1], 50), silent: true,
      style: { text: lab, fontSize: 50, fontFamily: LATO, fill: '#000', align: 'left', verticalAlign: 'middle' } });
    const d = DASH[panels[i][k][2]];
    graphic.push({ type: 'line', silent: true, shape: { x1: p[2], y1: p[4], x2: p[3], y2: p[4] },
      style: { stroke: LINE, lineWidth: 2.6, lineDash: d === 'solid' ? null : d } });
  });
  if (i === 0 || i === 7) {
    graphic.push({ type: 'rect', silent: true, shape: { x: g[0] + 5, y: g[1] + 5, width: g[2] - 10, height: g[3] - 10 },
      style: { fill: null, stroke: '#c4c4c4', lineWidth: 2 } });
  }
});

const chart = echarts.init(document.getElementById('c'), null, { renderer: 'canvas', width: W, height: H });
chart.setOption({
  backgroundColor: '#ffffff',
  animation: false,
  textStyle: { fontFamily: LATO },
  grid: gridOpt, xAxis: xAxes, yAxis: yAxes, series: series, graphic: graphic
});
</script></body></html>
